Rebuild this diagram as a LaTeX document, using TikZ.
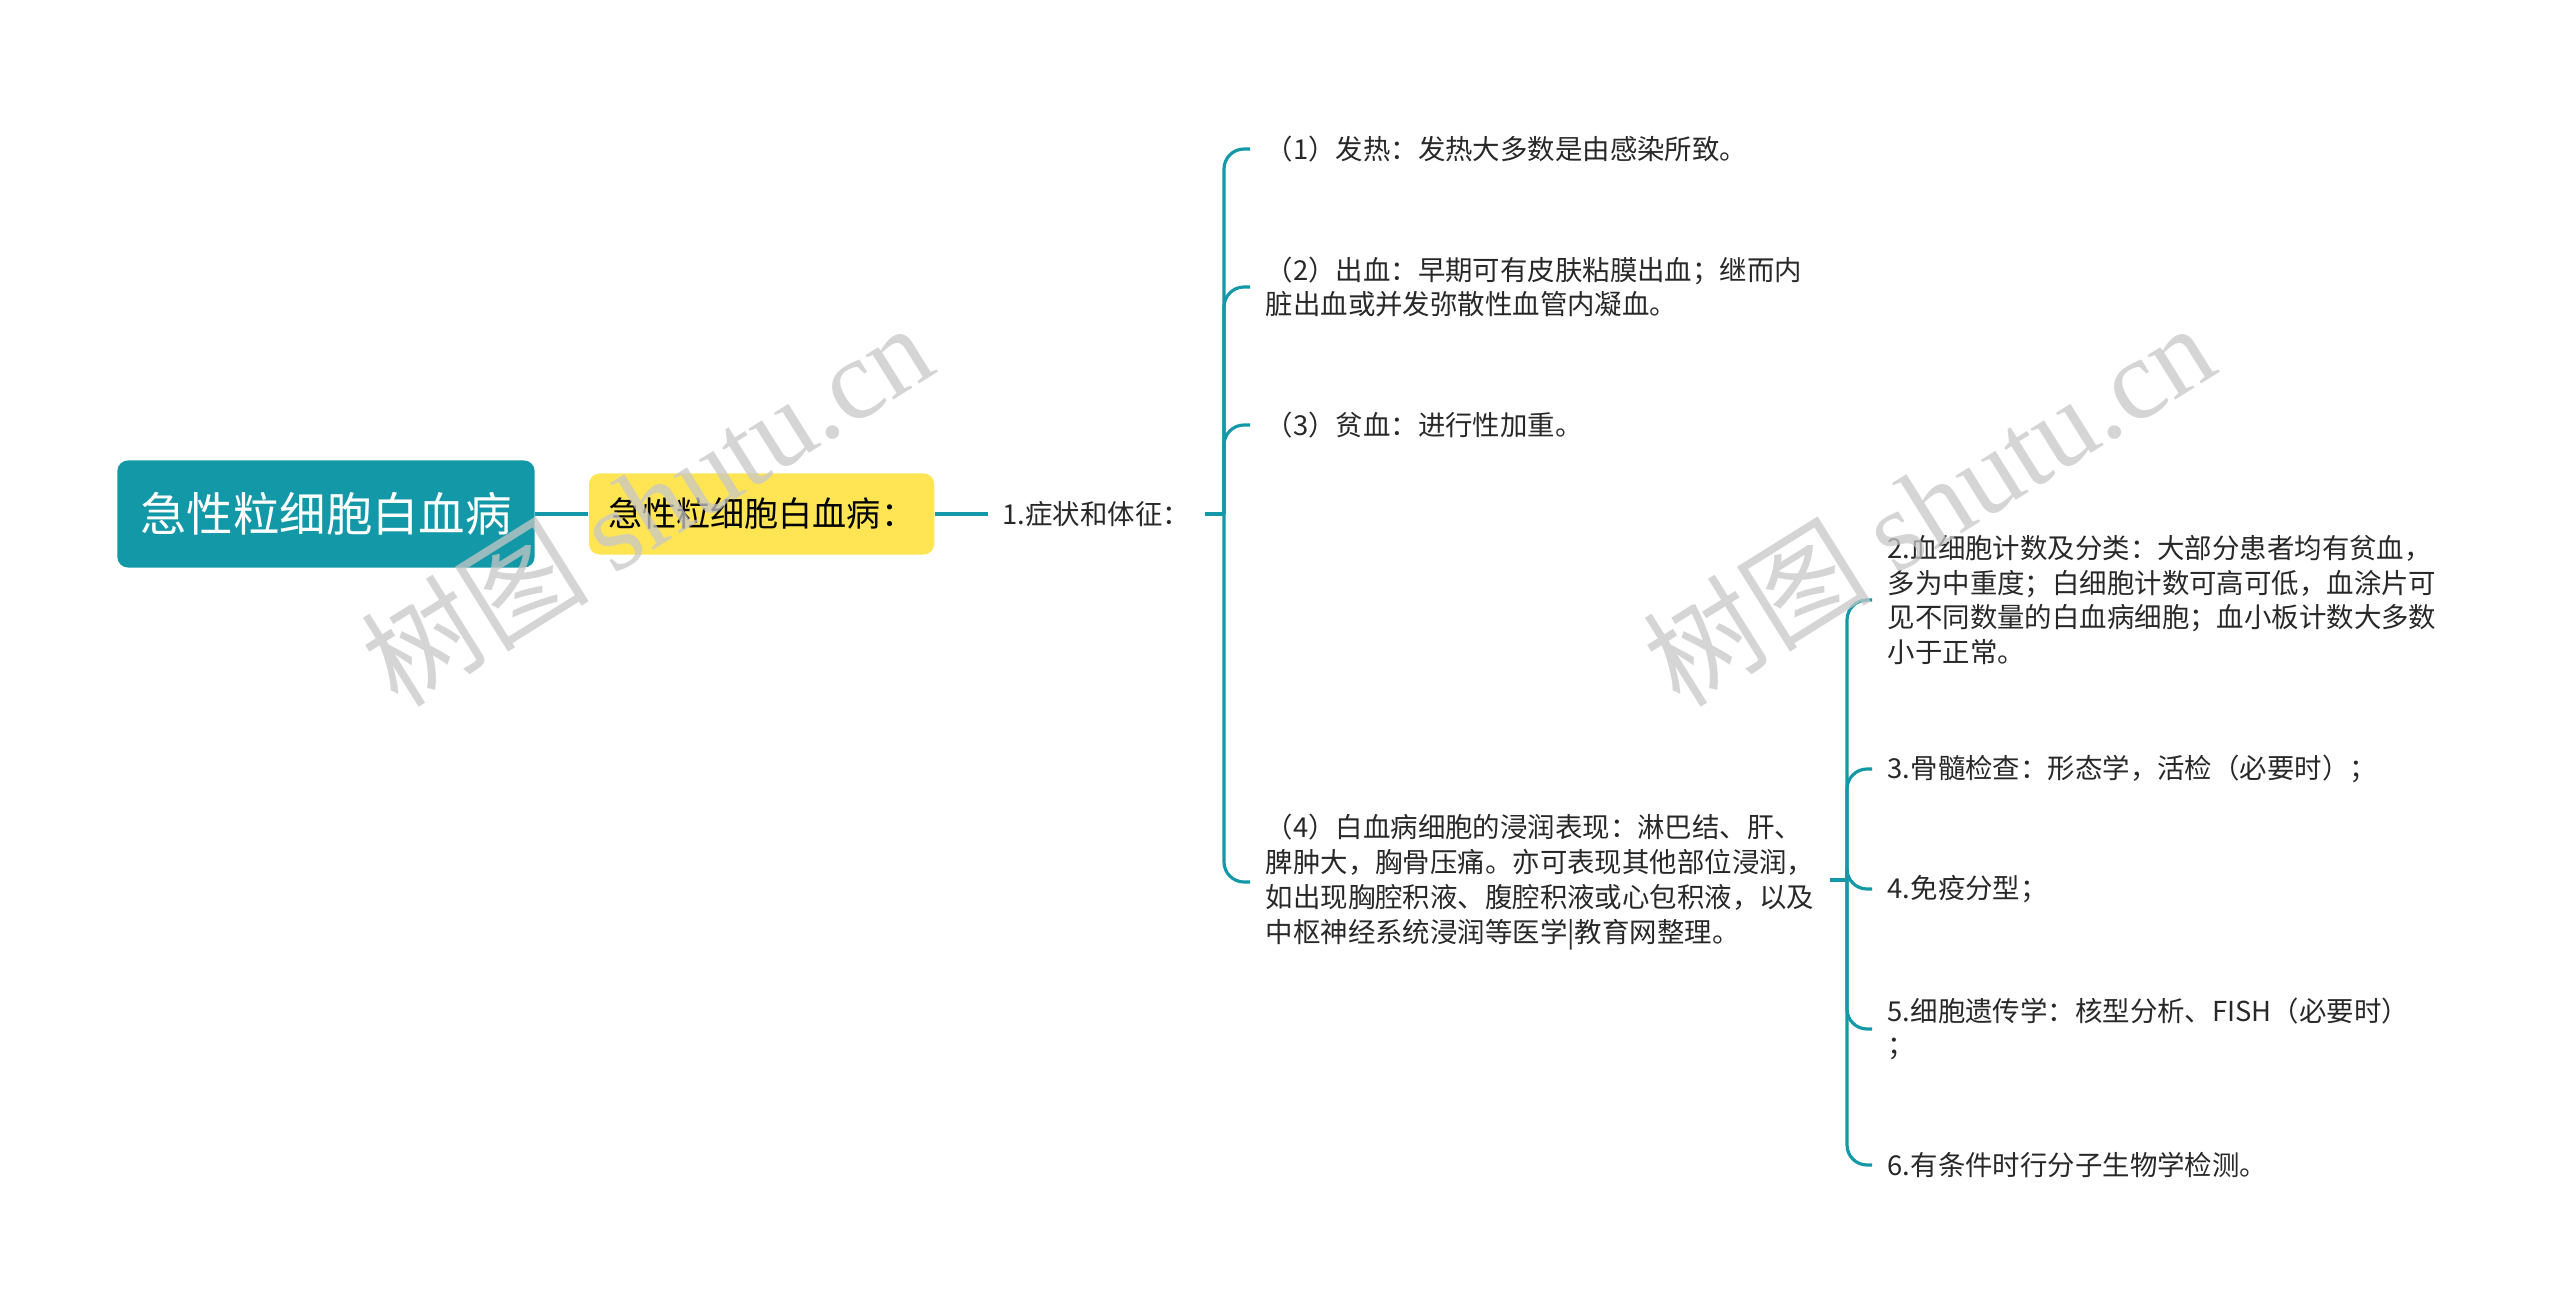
\documentclass[tikz,border=0pt]{standalone}
\usepackage{fontspec}
\setmainfont{Noto Sans CJK SC}
\newfontfamily\wmserif{Liberation Serif}
\usepackage{xcolor}
\definecolor{mmteal}{RGB}{18, 152, 167}
\definecolor{mmyellow}{RGB}{255, 229, 84}
\definecolor{mmtext}{RGB}{40, 40, 40}
\usetikzlibrary{positioning}

\begin{document}
\begin{tikzpicture}[
  x=0.01cm, y=-0.01cm,
  rootbox/.style={rounded corners=3pt, fill=mmteal, text=white,
                  font=\fontsize{13.2}{16}\selectfont,
                  minimum width=4.17cm, minimum height=1.07cm, inner sep=0pt},
  subbox/.style={rounded corners=3pt, fill=mmyellow, text=black,
                 font=\fontsize{9.7}{12}\selectfont,
                 minimum width=3.45cm, minimum height=0.81cm, inner sep=0pt},
  leaf/.style={anchor=west, align=left, text=mmtext,
               font=\fontsize{7.8}{9.9}\selectfont,
               inner xsep=4.27pt, inner ysep=2pt},
  link/.style={draw=mmteal, line width=0.9pt, rounded corners=0.2cm},
  wmark/.style={text=black!22, opacity=0.75, rotate=32,
                font=\fontsize{32.5}{38}\selectfont}
]
\useasboundingbox (0,0) rectangle (2560,1313);
\node[rootbox] (root) at (326,514) {急性粒细胞白血病};
\node[subbox, right=0.53cm of root] (sub) {急性粒细胞白血病：};
\node[leaf, right=0.53cm of sub, anchor=west, inner xsep=0.14cm] (sym) {1.症状和体征：};
\coordinate (j1) at (1224,514);
\node[leaf] (s1) at (1250,149) {（1）发热：发热大多数是由感染所致。};
\node[leaf] (s2) at (1250,287) {（2）出血：早期可有皮肤粘膜出血；继而内\\脏出血或并发弥散性血管内凝血。};
\node[leaf] (s3) at (1250,425) {（3）贫血：进行性加重。};
\node[leaf] (s4) at (1250,882) {（4）白血病细胞的浸润表现：淋巴结、肝、\\脾肿大，胸骨压痛。亦可表现其他部位浸润，\\如出现胸腔积液、腹腔积液或心包积液，以及\\中枢神经系统浸润等医学|教育网整理。};
\coordinate (j2) at (1847,880);
\node[leaf] (d2) at (1872,600) {2.血细胞计数及分类：大部分患者均有贫血，\\多为中重度；白细胞计数可高可低，血涂片可\\见不同数量的白血病细胞；血小板计数大多数\\小于正常。};
\node[leaf] (d3) at (1872,769) {3.骨髓检查：形态学，活检（必要时）；};
\node[leaf] (d4) at (1872,889) {4.免疫分型；};
\node[leaf] (d5) at (1872,1029) {5.细胞遗传学：核型分析、FISH（必要时）\\；};
\node[leaf] (d6) at (1872,1165) {6.有条件时行分子生物学检测。};
\draw[link] (root) -- (sub); \draw[link] (sub) -- (sym); \draw[link] (sym) -- (j1);
\foreach \n in {s1,s2,s3,s4} \draw[link] (j1) |- (\n.west);
\draw[link] (s4.east |- j2) -- (j2);
\foreach \n in {d2,d3,d4,d5,d6} \draw[link] (j2) |- (\n.west);
\node[wmark] (wm1) at (646,504) {树图 {\wmserif shutu.cn}};
\node[wmark] (wm2) at (1928,504) {树图 {\wmserif shutu.cn}};
\end{tikzpicture}
\end{document}
